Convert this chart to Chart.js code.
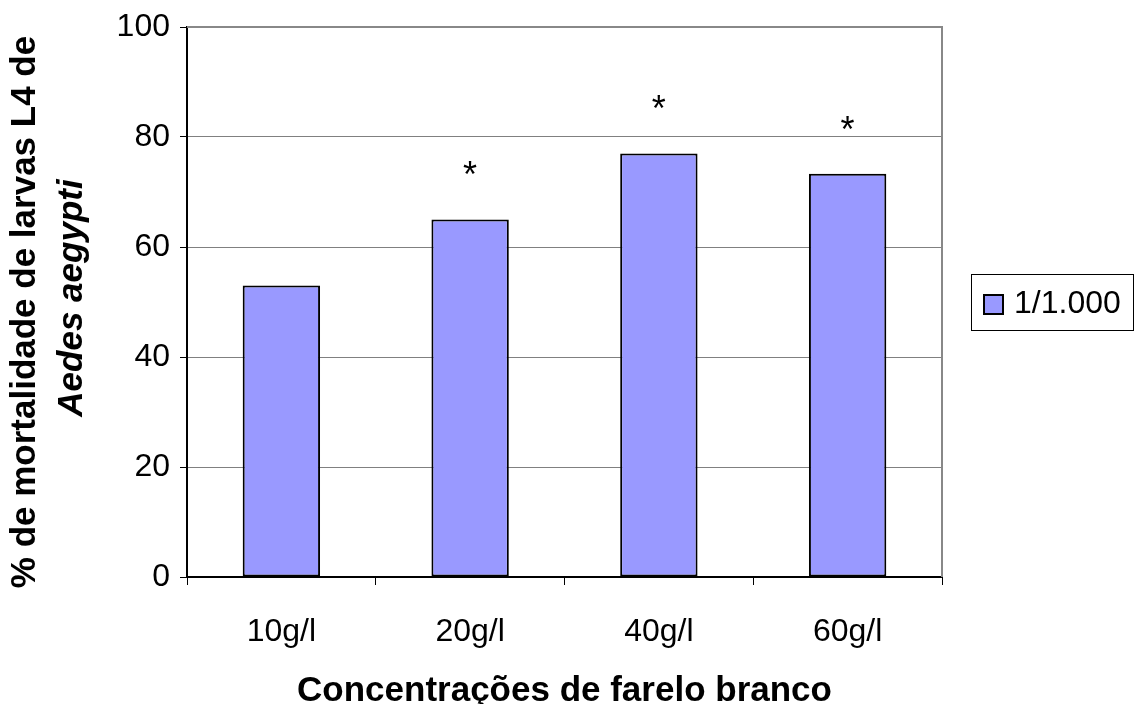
<!DOCTYPE html>
<html>
<head>
<meta charset="utf-8">
<script src="https://cdn.jsdelivr.net/npm/chart.js@4"></script>
<style>
  html, body { margin: 0; padding: 0; background: #fff; }
  #wrap { width: 1138px; height: 704px; }
</style>
</head>
<body>
<div id="wrap"><canvas id="myChart" width="1138" height="704"></canvas></div>
<script>
// dados do grafico
var labels = ['10g/l', '20g/l', '40g/l', '60g/l'];
var mortalidade = [53, 65, 77, 73.3];
var marcas = ['', '*', '*', '*']; // diferenca significativa
var yTicks = [0, 20, 40, 60, 80, 100];
var serieNome = '1/1.000';

var corBarra = '#9999FF';
var fonte = 'Arial, "Liberation Sans", sans-serif';

// desenha titulo do eixo y (2 linhas, segunda em italico), asteriscos, legenda e bordas
var extras = {
    id: 'extras',
    afterDraw: function(chart) {
        var ctx = chart.ctx;
        var area = chart.chartArea;
        var meta = chart.getDatasetMeta(0);

        // borda cinza superior e direita
        ctx.save();
        ctx.strokeStyle = '#888888';
        ctx.lineWidth = 2;
        ctx.beginPath();
        ctx.moveTo(area.left, area.top);
        ctx.lineTo(area.right, area.top);
        ctx.lineTo(area.right, area.bottom);
        ctx.stroke();
        ctx.restore();

        // asteriscos acima das barras
        ctx.save();
        ctx.fillStyle = '#000';
        ctx.font = '36px ' + fonte;
        ctx.textAlign = 'center';
        ctx.textBaseline = 'middle';
        meta.data.forEach(function(bar, i) {
            if (marcas[i]) ctx.fillText(marcas[i], bar.x, bar.y - 42);
        });
        ctx.restore();

        // titulo do eixo y
        ctx.save();
        ctx.translate(25, 312);
        ctx.rotate(-Math.PI / 2);
        ctx.fillStyle = '#000';
        ctx.textAlign = 'center';
        ctx.textBaseline = 'middle';
        ctx.font = 'bold 35px ' + fonte;
        ctx.fillText('% de mortalidade de larvas L4 de', 0, 0);
        ctx.font = 'italic bold 35px ' + fonte;
        ctx.fillText('Aedes aegypti', 14, 47);
        ctx.restore();

        // legenda
        var lx = 971, ly = 274, lw = 162, lh = 56;
        ctx.save();
        ctx.strokeStyle = '#000';
        ctx.lineWidth = 1;
        ctx.strokeRect(lx + 0.5, ly + 0.5, lw, lh);
        ctx.fillStyle = corBarra;
        ctx.fillRect(lx + 13, ly + 21, 19, 19);
        ctx.lineWidth = 2;
        ctx.strokeRect(lx + 13, ly + 21, 19, 19);
        ctx.fillStyle = '#000';
        ctx.font = '32px ' + fonte;
        ctx.textAlign = 'left';
        ctx.textBaseline = 'middle';
        ctx.fillText(serieNome, lx + 43, ly + 30);
        ctx.restore();
    }
};

var ctx = document.getElementById('myChart').getContext('2d');
var myChart = new Chart(ctx, {
    type: 'bar',
    data: {
        labels: labels,
        datasets: [{
            label: serieNome,
            data: mortalidade,
            backgroundColor: corBarra,
            borderColor: '#000',
            borderWidth: 2,
            borderSkipped: false,
            barPercentage: 0.41,
            categoryPercentage: 1
        }]
    },
    options: {
        responsive: false,
        animation: false,
        layout: { padding: { left: 100, right: 196, top: 27, bottom: 0 } },
        plugins: {
            legend: { display: false },
            tooltip: { enabled: false }
        },
        scales: {
            x: {
                offset: true,
                grid: {
                    offset: true,
                    drawOnChartArea: false,
                    color: '#000',
                    lineWidth: 1,
                    tickLength: 8
                },
                border: { color: '#000', width: 2 },
                ticks: { color: '#000', font: { size: 32, family: fonte }, padding: 28 },
                title: {
                    display: true,
                    text: 'Concentrações de farelo branco',
                    color: '#000',
                    font: { size: 35, weight: 'bold', family: fonte, lineHeight: 0.7 },
                    padding: { top: 10, bottom: 0 }
                },
                afterFit: function(scale) { scale.height = 127; }
            },
            y: {
                min: 0,
                max: 100,
                afterBuildTicks: function(scale) {
                    scale.ticks = yTicks.map(function(v) { return { value: v }; });
                },
                grid: {
                    color: '#808080',
                    lineWidth: 1,
                    tickLength: 7,
                    tickColor: '#000'
                },
                border: { color: '#000', width: 2 },
                ticks: { color: '#000', font: { size: 32, family: fonte }, padding: 10 },
                afterFit: function(scale) {
                    scale.width = 87;
                    scale.paddingTop = 0;
                    scale.paddingBottom = 0;
                }
            }
        }
    },
    plugins: [extras]
});
</script>
</body>
</html>
